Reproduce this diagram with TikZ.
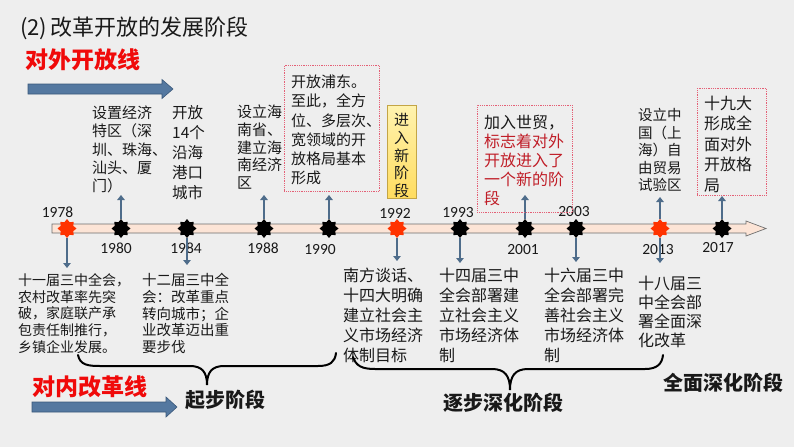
\documentclass[tikz,border=0pt]{standalone}
\usepackage{fontspec}
\setmainfont{Noto Sans CJK SC}
\newfontfamily\yearfont{Carlito}
\usetikzlibrary{shapes.geometric,arrows.meta}
\definecolor{bgc}{RGB}{238,238,238}
\definecolor{arrowblue}{RGB}{84,120,160}
\definecolor{arrowdark}{RGB}{58,88,122}
\definecolor{vblue}{RGB}{78,108,138}
\definecolor{starred}{RGB}{255,51,0}
\definecolor{barfill}{RGB}{252,228,214}
\definecolor{bargray}{RGB}{110,110,110}
\definecolor{dotred}{RGB}{228,96,118}
\definecolor{darkred}{RGB}{192,30,40}
\definecolor{brightred}{RGB}{240,10,10}
\definecolor{yboxtop}{RGB}{255,243,175}
\definecolor{yboxbot}{RGB}{255,220,95}
\definecolor{yboxline}{RGB}{195,165,70}
\newcommand\myfs[2]{\fontsize{#1}{#2}\selectfont}
\tikzset{
  txt/.style={anchor=base west, inner sep=0pt, align=left, text=black!90},
  yr/.style={inner sep=0pt, font=\yearfont\myfs{15.5}{15.5}, text=black!90},
  blackstar/.style={star, star points=8, star point ratio=1.4, minimum size=19pt, inner sep=0pt, fill=black},
  redstar/.style={blackstar, fill=starred},
  varrow/.style={draw=vblue, line width=2.6pt, -{Triangle[length=5pt,width=7.5pt]}},
  dbox/.style={draw=dotred, densely dotted, line width=0.8pt, anchor=north west, inner sep=0pt},
  bigarrow/.style={fill=arrowblue, draw=arrowdark, line width=0.6pt},
  brc/.style={draw=black, line width=2pt, line cap=round},
}
\begin{document}
\begin{tikzpicture}[x=1pt,y=-1pt]
\fill[bgc] (0,0) rectangle (794,447);
\useasboundingbox (0,0) rectangle (794,447);

% title
\node[txt, font=\myfs{22}{26}] (title) at (20,35.4) {(2)\,改革开放的发展阶段};

% outward-opening line
\node[txt, font=\bfseries\myfs{23}{26}, text=brightred] (outlbl) at (25,68.7) {对外开放线};
\path[bigarrow] (28,84)--(162,84)--(162,79.5)--(173,89)--(162,98.5)--(162,94)--(28,94)--cycle;

% inward reform line
\node[txt, font=\bfseries\myfs{23}{26}, text=brightred] (inlbl) at (32,395.7) {对内改革线};
\path[bigarrow] (32,402)--(166,402)--(166,397)--(177,407)--(166,417)--(166,412)--(32,412)--cycle;

% timeline bar
\path[fill=barfill, draw=bargray, line width=0.7pt] (52,224)--(746,224)--(746,221)--(766,228.5)--(746,236)--(746,233)--(52,233)--cycle;

% stars
\node[redstar]   (s1978) at (67,228.5) {};
\node[blackstar] (s1980) at (121,228.5) {};
\node[blackstar] (s1984) at (187,228.5) {};
\node[blackstar] (s1988) at (264,228.5) {};
\node[blackstar] (s1990) at (329,228.5) {};
\node[redstar]   (s1992) at (397,228.5) {};
\node[blackstar] (s1993) at (460,228.5) {};
\node[blackstar] (s2001) at (525,228.5) {};
\node[blackstar] (s2003) at (576,228.5) {};
\node[redstar]   (s2013) at (660,228.5) {};
\node[blackstar] (s2017) at (722,228.5) {};

% years
\node[yr] (y1978) at (57.5,212) {1978};
\node[yr] (y1980) at (116,248) {1980};
\node[yr] (y1984) at (186,248) {1984};
\node[yr] (y1988) at (263,248) {1988};
\node[yr] (y1990) at (320,250) {1990};
\node[yr] (y1992) at (395,213) {1992};
\node[yr] (y1993) at (458,213) {1993};
\node[yr] (y2001) at (523,250) {2001};
\node[yr] (y2003) at (574,212) {2003};
\node[yr] (y2013) at (658,250) {2013};
\node[yr] (y2017) at (718,248) {2017};

% arrow end coordinates
\coordinate (u1980) at (121,195);
\coordinate (u1988) at (264,195);
\coordinate (u1990) at (329,195);
\coordinate (u2001) at (525,195);
\coordinate (u2013) at (660,197);
\coordinate (u2017) at (722,196);
\coordinate (d1978) at (67,268);
\coordinate (d1984) at (187,265);
\coordinate (d1992) at (397,261);
\coordinate (d1993) at (460,263);
\coordinate (d2003) at (576,262);
\coordinate (d2013) at (660,263);

\draw[varrow] (s1980.north) -- (u1980);
\draw[varrow] (s1988.north) -- (u1988);
\draw[varrow] (s1990.north) -- (u1990);
\draw[varrow] (s2001.north) -- (u2001);
\draw[varrow] (s2013.north) -- (u2013);
\draw[varrow] (s2017.north) -- (u2017);
\draw[varrow] (s1978.south) -- (d1978);
\draw[varrow] (s1984.south) -- (d1984);
\draw[varrow] (s1992.south) -- (d1992);
\draw[varrow] (s1993.south) -- (d1993);
\draw[varrow] (s2003.south) -- (d2003);
\draw[varrow] (s2013.south) -- (d2013);

% upper texts (anchor = baseline of last line)
\node[txt, font=\myfs{15}{18.25}] (t1980) at (92,191.7) {设置经济\\特区（深\\圳、珠海、\\汕头、厦\\门）};
\node[txt, font=\myfs{15.5}{20}] (t1984) at (172,198.9) {开放\\14个\\沿海\\港口\\城市};
\node[txt, font=\myfs{15}{17.75}] (t1988) at (237,188.7) {设立海\\南省、\\建立海\\南经济\\区};
\node[dbox, minimum width=95pt, minimum height=126pt] (box1) at (284,65) {};
\node[txt, font=\myfs{15}{19.2}] (t1990) at (291,183.7) {开放浦东。\\至此，全方\\位、多层次、\\宽领域的开\\放格局基本\\形成};
\node[draw=yboxline, line width=0.7pt, top color=yboxtop, bottom color=yboxbot, anchor=north west, inner sep=0pt, minimum width=29pt, minimum height=93pt] (ybox) at (387,105) {};
\node[inner sep=0pt, anchor=base, align=center, font=\myfs{15}{17.75}, text=black!90] (t1992) at (401.5,196.7) {进\\入\\新\\阶\\段};
\node[dbox, minimum width=95pt, minimum height=107pt] (box2) at (477,105) {};
\node[txt, font=\myfs{16}{19}] (t2001) at (484,204) {加入世贸，\\\textcolor{darkred}{标志着对外}\\\textcolor{darkred}{开放进入了}\\\textcolor{darkred}{一个新的阶}\\\textcolor{darkred}{段}};
\node[txt, font=\myfs{14.5}{17.5}] (t2013) at (638,190.5) {设立中\\国（上\\海）自\\由贸易\\试验区};
\node[dbox, minimum width=69pt, minimum height=107pt] (box3) at (697,88) {};
\node[txt, font=\myfs{16}{20.5}] (t2017) at (704,191) {十九大\\形成全\\面对外\\开放格\\局};

% lower texts
\node[txt, font=\myfs{14}{16.75}] (b1978) at (18,352.3) {十一届三中全会，\\农村改革率先突\\破，家庭联产承\\包责任制推行，\\乡镇企业发展。};
\node[txt, font=\myfs{14.5}{16.75}] (b1984) at (142,352.5) {十二届三中全\\会：改革重点\\转向城市；企\\业改革迈出重\\要步伐};
\node[txt, font=\myfs{16}{20}] (b1992) at (343,361) {南方谈话、\\十四大明确\\建立社会主\\义市场经济\\体制目标};
\node[txt, font=\myfs{16}{20}] (b1993) at (439,361) {十四届三中\\全会部署建\\立社会主义\\市场经济体\\制};
\node[txt, font=\myfs{16}{20}] (b2003) at (544,361) {十六届三中\\全会部署完\\善社会主义\\市场经济体\\制};
\node[txt, font=\myfs{16}{19}] (b2013) at (638,346) {十八届三\\中全会部\\署全面深\\化改革};

% braces
\draw[brc] (78,355) .. controls (80,365) and (88,366) .. (100,366) -- (190,366)
  .. controls (202,366) and (207,372) .. (207,385)
  .. controls (207,372) and (212,366) .. (224,366) -- (318,366)
  .. controls (330,366) and (335,362) .. (336,353);
\draw[brc] (353,357) .. controls (356,366) and (362,369) .. (375,369) -- (492,369)
  .. controls (505,369) and (510,376) .. (510,390)
  .. controls (510,376) and (515,369) .. (528,369) -- (645,369)
  .. controls (657,369) and (662,364) .. (663,355);

% phase labels
\node[txt, font=\bfseries\myfs{20}{24}] (p1) at (185,407.6) {起步阶段};
\node[txt, font=\bfseries\myfs{20}{24}] (p2) at (443,410.6) {逐步深化阶段};
\node[txt, font=\bfseries\myfs{20}{24}] (p3) at (663,390.6) {全面深化阶段};
\end{tikzpicture}
\end{document}
